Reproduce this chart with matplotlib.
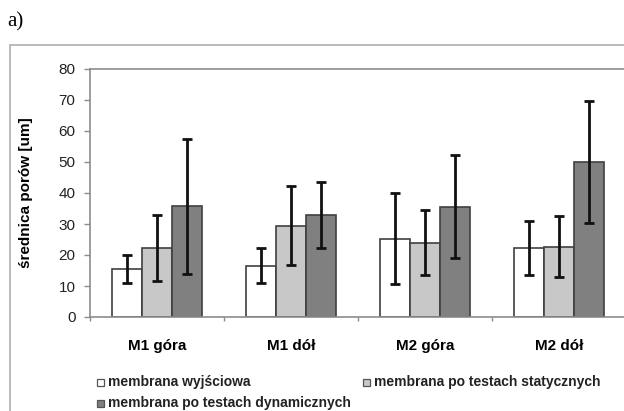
import matplotlib
matplotlib.use("Agg")
import matplotlib.pyplot as plt
from matplotlib.patches import Rectangle
import numpy as np

plt.rcParams['font.family'] = ['Liberation Sans', 'DejaVu Sans']

# Sample locations and series
categories = ["M1 góra", "M1 dół", "M2 góra", "M2 dół"]
series_names = ["membrana wyjściowa",
                "membrana po testach statycznych",
                "membrana po testach dynamicznych"]
mean_initial = [15.5, 16.6, 25.3, 22.4]
mean_static = [22.3, 29.4, 24.0, 22.7]
mean_dynamic = [35.7, 33.0, 35.5, 50.0]
err_initial = [4.5, 5.5, 14.8, 8.7]
err_static = [10.6, 12.7, 10.4, 9.8]
err_dynamic = [21.7, 10.7, 16.6, 19.8]
yticks = [0, 10, 20, 30, 40, 50, 60, 70, 80]

means = [mean_initial, mean_static, mean_dynamic]
errs = [err_initial, err_static, err_dynamic]
fills = ["#ffffff", "#c8c8c8", "#808080"]

W, H = 624, 411
fig = plt.figure(figsize=(W / 100, H / 100), dpi=100)

def px(x, y):
    return x / W, 1 - y / H

# outer chart frame
fig.patches.append(Rectangle((10 / W, -0.2), 1.2, (H - 45) / H + 0.2,
                             transform=fig.transFigure, fill=False,
                             edgecolor="#b4b4b4", lw=1.3))

fig.text(7 / W, 1 - 22 / H, "a)", family="Liberation Serif", fontsize=15,
         va="center", ha="left")

left, right, top, bottom = 90, 626, 69, 317
ax = fig.add_axes([left / W, 1 - bottom / H, (right - left) / W, (bottom - top) / H])
ax.set_xlim(0, len(categories))
ax.set_ylim(0, 80)

w = 1 / 4.5
x = np.arange(len(categories)) + 0.5
for k in range(3):
    ax.bar(x + (k - 1) * w, means[k], width=w, color=fills[k],
           edgecolor="#404040", lw=1.2, zorder=2)
    ax.errorbar(x + (k - 1) * w, means[k], yerr=errs[k], fmt="none",
                ecolor="#111111", elinewidth=2, capsize=3.5, capthick=2,
                zorder=3)

for s in ["left", "bottom", "top"]:
    ax.spines[s].set_color("#8c8c8c")
    ax.spines[s].set_linewidth(1.2)
ax.spines["right"].set_visible(False)

ax.set_yticks(yticks)
ax.tick_params(axis="y", length=4, width=1, color="#8c8c8c", pad=6.5,
               labelsize=11, labelcolor="#222222")
ax.set_xticks(np.arange(len(categories) + 1))
ax.set_xticklabels([])
ax.tick_params(axis="x", which="major", length=3, width=1, color="#8c8c8c")
ax.set_xticks(x, categories, minor=True)
ax.tick_params(axis="x", which="minor", length=0, pad=15.5, labelsize=11)
for t in ax.get_xticklabels(minor=True):
    t.set_fontweight("bold")

ax.set_ylabel("średnica porów [um]", fontsize=11, fontweight="bold")
ax.yaxis.set_label_coords((33 - left) / (right - left), 0.5)

# legend entries
legend_pos = [(97, 382), (363, 382), (97, 403)]
for (lx, ly), name, col in zip(legend_pos, series_names, fills):
    fx, fy = px(lx, ly + 3.5)
    fig.patches.append(Rectangle((fx, fy), 7 / W, 7 / H,
                                 transform=fig.transFigure, facecolor=col,
                                 edgecolor="#555555", lw=0.9))
    tx, ty = px(lx + 11, ly)
    fig.text(tx, ty, name, fontsize=10, fontweight="bold", va="center",
             ha="left", color="#222222")

fig.savefig("out.png", dpi=100)
